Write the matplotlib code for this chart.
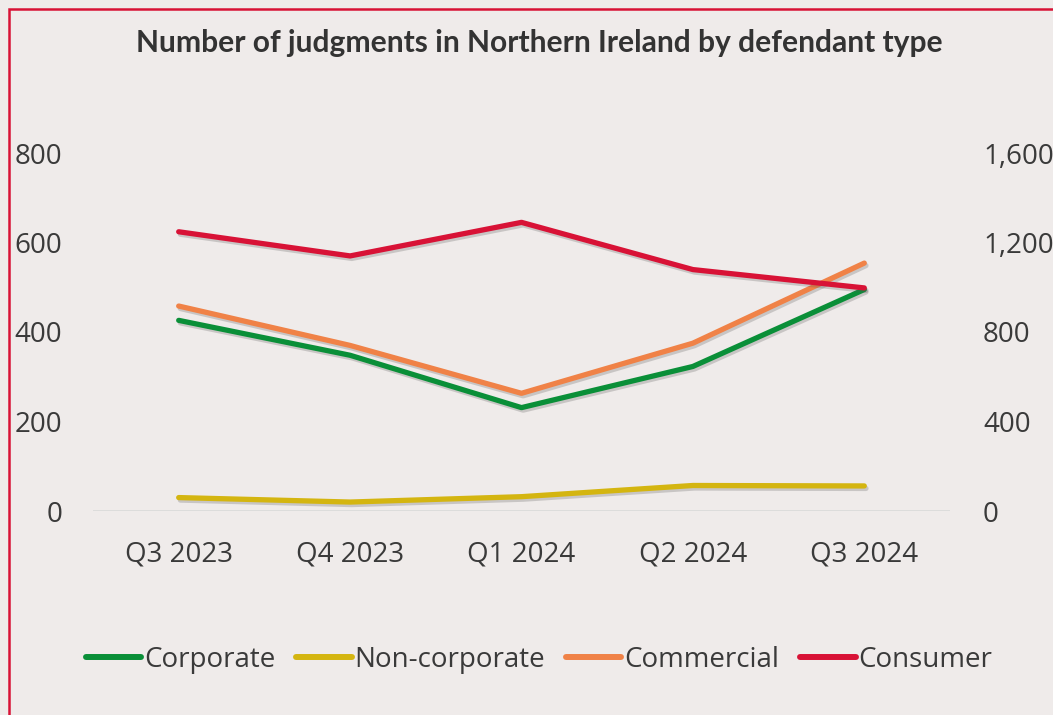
import matplotlib
matplotlib.use("Agg")
import matplotlib.pyplot as plt
import matplotlib.patheffects as pe
from matplotlib.lines import Line2D
from matplotlib.patches import Rectangle
from matplotlib.ticker import FuncFormatter

categories = ["Q3 2023", "Q4 2023", "Q1 2024", "Q2 2024", "Q3 2024"]
corporate = [426, 348, 231, 323, 495]
non_corporate = [30, 20, 32, 57, 56]
commercial = [458, 370, 263, 375, 554]
consumer = [1248, 1140, 1290, 1079, 997]  # right axis

left_ticks = [0, 200, 400, 600, 800]
right_ticks = [0, 400, 800, 1200, 1600]

BG = "#EFEBEA"
TXT = "#3A3A3A"
C_CORP = "#0A8F38"
C_NON = "#D4B510"
C_COM = "#F08247"
C_CON = "#D81236"

fig = plt.figure(figsize=(10.53, 7.15), dpi=100, facecolor=BG)
ax = fig.add_axes([93 / 1053, 1 - 511 / 715, (950 - 93) / 1053, (511 - 153) / 715])
ax.set_facecolor(BG)
ax2 = ax.twinx()

x = list(range(len(categories)))
lw = 3.8
shadow = [pe.SimpleLineShadow(offset=(1.2, -1.8), alpha=0.25, shadow_color="#555555"), pe.Normal()]

series = [
    (ax, corporate, C_CORP, "Corporate"),
    (ax, non_corporate, C_NON, "Non-corporate"),
    (ax, commercial, C_COM, "Commercial"),
    (ax2, consumer, C_CON, "Consumer"),
]
for a, vals, col, lab in series:
    a.plot(x, vals, color=col, lw=lw, solid_capstyle="round", solid_joinstyle="round",
           path_effects=shadow, zorder=3)

ax.set_xlim(-0.5, len(categories) - 0.5)
ax.set_ylim(0, 800)
ax2.set_ylim(0, 1600)
ax.set_yticks(left_ticks)
ax2.set_yticks(right_ticks)
ax2.yaxis.set_major_formatter(FuncFormatter(lambda v, p: f"{int(v):,}"))
ax.set_xticks(x)
ax.set_xticklabels(categories)

for a in (ax, ax2):
    for s in a.spines.values():
        s.set_visible(False)
    a.tick_params(length=0, labelsize=20, labelcolor=TXT)
    for t in a.get_yticklabels() + a.get_xticklabels():
        t.set_fontfamily("Open Sans")
ax.tick_params(axis="y", pad=22.3)
ax2.tick_params(axis="y", pad=23.8)
ax.tick_params(axis="x", pad=21)
ax.axhline(0, color="#D9D9D9", lw=1.2, zorder=1)

fig.text(539 / 1053, 1 - 43 / 715, "Number of judgments in Northern Ireland by defendant type",
         ha="center", va="center", fontsize=21.6, fontweight="bold", color="#333333", family="Lato")

handles = [Line2D([], [], color=c, lw=4.3, solid_capstyle="round") for _, _, c, _ in series]
labels = [l for _, _, _, l in series]
leg = fig.legend(handles, labels, loc="center", bbox_to_anchor=(539 / 1053, 1 - 660 / 715),
                 ncol=4, frameon=False, handlelength=2.0, handletextpad=0.1,
                 columnspacing=0.75, prop={"family": "Open Sans", "size": 20})
for t in leg.get_texts():
    t.set_color(TXT)

fig.patches.append(Rectangle((9 / 1053, -0.1), 1.2, 1 - 9 / 715 + 0.1, transform=fig.transFigure,
                             fill=False, edgecolor=C_CON, lw=1.8, zorder=10))

fig.savefig("out.png", dpi=100, facecolor=BG)
